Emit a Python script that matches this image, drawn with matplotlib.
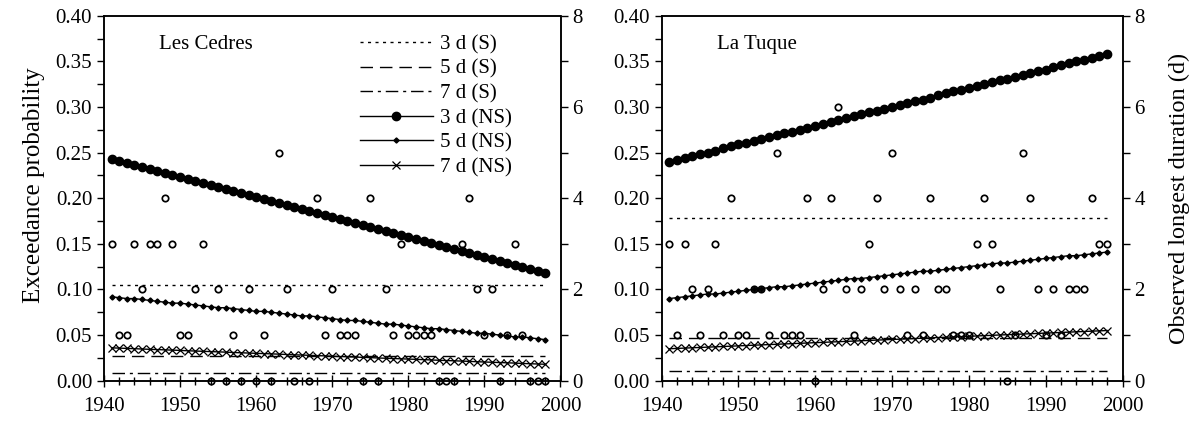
""" Exceedance probability of low-flow durations, stationary (S) vs
    non-stationary (NS) models, Les Cedres and La Tuque """
import numpy as np
import matplotlib.pyplot as plt

plt.rcParams['font.family'] = ['Liberation Serif', 'DejaVu Serif']
plt.rcParams['font.size'] = 15

years = list(range(1941, 1999))
nan = np.nan

# stationary model, constant probability (3 d, 5 d, 7 d)
cedres_s = [0.105, 0.027, 0.008]
tuque_s = [0.178, 0.047, 0.011]

# non-stationary model, one value per year
cedres_ns3 = [0.243, 0.241, 0.239, 0.236, 0.234, 0.232, 0.230, 0.228, 0.225, 0.223,
              0.221, 0.219, 0.217, 0.215, 0.212, 0.210, 0.208, 0.206, 0.204, 0.201,
              0.199, 0.197, 0.195, 0.193, 0.190, 0.188, 0.186, 0.184, 0.182, 0.179,
              0.177, 0.175, 0.173, 0.171, 0.168, 0.166, 0.164, 0.162, 0.160, 0.158,
              0.155, 0.153, 0.151, 0.149, 0.147, 0.144, 0.142, 0.140, 0.138, 0.136,
              0.133, 0.131, 0.129, 0.127, 0.125, 0.122, 0.120, 0.118]
cedres_ns5 = [0.092, 0.091, 0.090, 0.090, 0.089, 0.088, 0.087, 0.086, 0.085, 0.085,
              0.084, 0.083, 0.082, 0.081, 0.080, 0.080, 0.079, 0.078, 0.077, 0.076,
              0.076, 0.075, 0.074, 0.073, 0.072, 0.071, 0.071, 0.070, 0.069, 0.068,
              0.067, 0.066, 0.066, 0.065, 0.064, 0.063, 0.062, 0.062, 0.061, 0.060,
              0.059, 0.058, 0.057, 0.057, 0.056, 0.055, 0.054, 0.053, 0.052, 0.052,
              0.051, 0.050, 0.049, 0.048, 0.048, 0.047, 0.046, 0.045]
cedres_ns7 = [0.0360, 0.0357, 0.0354, 0.0351, 0.0347, 0.0344, 0.0341, 0.0338, 0.0335, 0.0332,
              0.0328, 0.0325, 0.0322, 0.0319, 0.0316, 0.0313, 0.0309, 0.0306, 0.0303, 0.0300,
              0.0297, 0.0294, 0.0291, 0.0287, 0.0284, 0.0281, 0.0278, 0.0275, 0.0272, 0.0268,
              0.0265, 0.0262, 0.0259, 0.0256, 0.0253, 0.0249, 0.0246, 0.0243, 0.0240, 0.0237,
              0.0234, 0.0231, 0.0227, 0.0224, 0.0221, 0.0218, 0.0215, 0.0212, 0.0208, 0.0205,
              0.0202, 0.0199, 0.0196, 0.0193, 0.0189, 0.0186, 0.0183, 0.0180]

tuque_ns3 = [0.240, 0.242, 0.244, 0.246, 0.248, 0.250, 0.252, 0.255, 0.257, 0.259,
             0.261, 0.263, 0.265, 0.267, 0.269, 0.271, 0.273, 0.275, 0.277, 0.279,
             0.281, 0.284, 0.286, 0.288, 0.290, 0.292, 0.294, 0.296, 0.298, 0.300,
             0.302, 0.304, 0.306, 0.308, 0.310, 0.313, 0.315, 0.317, 0.319, 0.321,
             0.323, 0.325, 0.327, 0.329, 0.331, 0.333, 0.335, 0.337, 0.339, 0.341,
             0.344, 0.346, 0.348, 0.350, 0.352, 0.354, 0.356, 0.358]
tuque_ns5 = [0.090, 0.091, 0.092, 0.093, 0.094, 0.095, 0.095, 0.096, 0.097, 0.098,
             0.099, 0.100, 0.101, 0.102, 0.103, 0.103, 0.104, 0.105, 0.106, 0.107,
             0.108, 0.109, 0.110, 0.111, 0.112, 0.112, 0.113, 0.114, 0.115, 0.116,
             0.117, 0.118, 0.119, 0.120, 0.120, 0.121, 0.122, 0.123, 0.124, 0.125,
             0.126, 0.127, 0.128, 0.129, 0.129, 0.130, 0.131, 0.132, 0.133, 0.134,
             0.135, 0.136, 0.137, 0.137, 0.138, 0.139, 0.140, 0.141]
tuque_ns7 = [0.0350, 0.0354, 0.0357, 0.0361, 0.0364, 0.0368, 0.0371, 0.0375, 0.0378, 0.0382,
             0.0385, 0.0389, 0.0392, 0.0396, 0.0399, 0.0403, 0.0406, 0.0410, 0.0413, 0.0417,
             0.0420, 0.0424, 0.0427, 0.0431, 0.0434, 0.0438, 0.0441, 0.0445, 0.0448, 0.0452,
             0.0455, 0.0459, 0.0462, 0.0466, 0.0469, 0.0473, 0.0476, 0.0480, 0.0483, 0.0487,
             0.0490, 0.0494, 0.0497, 0.0501, 0.0504, 0.0508, 0.0511, 0.0515, 0.0518, 0.0522,
             0.0525, 0.0529, 0.0532, 0.0536, 0.0539, 0.0543, 0.0546, 0.0550]

# observed longest duration (days), right axis
cedres_obs = [3, 1, 1, 3, 2, 3, 3, 4, 3, 1,
              1, 2, 3, 0, 2, 0, 1, 0, 2, 0,
              1, 0, 5, 2, 0, nan, 0, 4, 1, 2,
              1, 1, 1, 0, 4, 0, 2, 1, 3, 1,
              1, 1, 1, 0, 0, 0, 3, 4, 2, 1,
              2, 0, 1, 3, 1, 0, 0, 0]
tuque_obs = [3, 1, 3, 2, 1, 2, 3, 1, 4, 1,
             1, 2, 2, 1, 5, 1, 1, 1, 4, 0,
             2, 4, 6, 2, 1, 2, 3, 4, 2, 5,
             2, 1, 2, 1, 4, 2, 2, 1, 1, 1,
             3, 4, 3, 2, 0, 1, 5, 4, 2, 1,
             2, 1, 2, 2, 2, 4, 3, 3]

labels = ['3 d (S)', '5 d (S)', '7 d (S)', '3 d (NS)', '5 d (NS)', '7 d (NS)']

W, H = 1194, 424


def panel(rect, s_vals, ns3, ns5, ns7, obs, name):
    """ one station: probabilities on the left axis, observed durations
        on the right (twin) axis """
    ax = plt.gcf().add_axes(rect)
    lw = 1.0
    s_styles = [(0, (2.2, 3.2)), (0, (9, 5)), (0, (9, 3.5, 2.2, 3.5))]
    for val, ls, lab in zip(s_vals, s_styles, labels[:3]):
        ax.plot(years, [val]*len(years), color='k', lw=lw, linestyle=ls, label=lab)
    ax.plot(years, ns3, '-ok', lw=lw, ms=6, label=labels[3])
    ax.plot(years, ns5, '-Dk', lw=lw, ms=2.6, label=labels[4])
    ax.plot(years, ns7, '-xk', lw=lw, ms=6, mew=0.9, label=labels[5])

    ax.set_xlim(1940, 2000)
    ax.set_ylim(0, 0.4)
    ax.set_xticks(range(1940, 2001, 10))
    ax.set_xticks(range(1940, 2001, 2), minor=True)
    ax.set_yticks(np.arange(0, 0.401, 0.05))
    ax.set_yticks(np.arange(0, 0.401, 0.025), minor=True)
    ax.yaxis.set_major_formatter(plt.FormatStrFormatter('%.2f'))
    ax.tick_params(axis='x', which='major', direction='inout', length=9, width=1, pad=7)
    ax.tick_params(axis='x', which='minor', direction='inout', length=6, width=1)
    ax.tick_params(axis='y', which='both', direction='out', length=5, width=1)
    ax.text(1947.2, 0.368, name, va='center', ha='left')

    ax2 = ax.twinx()
    ax2.plot(years, obs, 'o', mfc='none', mec='k', ms=4.6, mew=1.25, clip_on=False)
    ax2.set_ylim(0, 8)
    ax2.set_yticks(range(0, 9, 2))
    ax2.set_yticks(range(0, 9), minor=True)
    ax2.tick_params(axis='y', which='both', direction='out', length=5, width=1)
    for a in (ax, ax2):
        for sp in a.spines.values():
            sp.set_linewidth(1.1)
    return ax, ax2


plt.figure(figsize=(W/100, H/100), dpi=100)

ax, ax2 = panel([104/W, 43.3/H, 456.5/W, 365/H], cedres_s,
                cedres_ns3, cedres_ns5, cedres_ns7, cedres_obs, 'Les Cedres')
ax.set_ylabel('Exceedance probability', fontsize=18)
ax.yaxis.set_label_coords(-0.129, 0.535)
ax.legend(loc='upper left', bbox_to_anchor=(0.56, 0.948), frameon=False,
          handlelength=3.5, handletextpad=0.35, labelspacing=0.24,
          borderpad=0, borderaxespad=0)

bx, bx2 = panel([661.5/W, 43.3/H, 461/W, 365/H], tuque_s,
                tuque_ns3, tuque_ns5, tuque_ns7, tuque_obs, 'La Tuque')
bx2.set_ylabel('Observed longest duration (d)', fontsize=17.5)
bx2.yaxis.set_label_coords(1.1, 0.5)

plt.savefig('out.png', dpi=100)
